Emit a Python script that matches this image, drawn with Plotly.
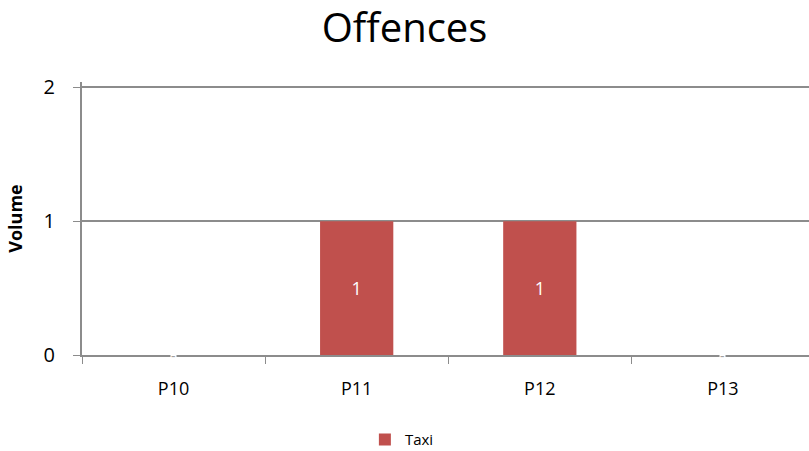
import plotly.graph_objects as go

categories = ["P10", "P11", "P12", "P13"]
taxi = [0, 1, 1, 0]
y_ticks = [0, 1, 2]
y_tick_labels = ["0", "1", "2"]

bar_color = "#C0504D"
axis_color = "#8C8C8C"
font_family = "'Open Sans', Lato, sans-serif"

labels = [str(v) if v != 0 else "" for v in taxi]

W, H = 809, 451

fig = go.Figure()
fig.add_trace(go.Bar(
    x=categories, y=taxi, name="Taxi",
    marker=dict(color=bar_color, line=dict(width=0)),
    width=0.4,
    text=labels, textposition="inside", insidetextanchor="middle",
    textfont=dict(color="white", size=18, family=font_family),
    showlegend=True,
))

# zero-value labels shown as dashes on the axis
for c, v in zip(categories, taxi):
    if v == 0:
        fig.add_annotation(x=c, y=v, text="-", showarrow=False,
                           font=dict(size=14, color="#A0A0A0", family=font_family),
                           bgcolor="white", borderpad=0, xanchor="center", yanchor="middle")

fig.update_layout(
    width=W, height=H,
    margin=dict(l=82, r=0, t=82, b=96, autoexpand=False),
    paper_bgcolor="white", plot_bgcolor="white",
    font=dict(family=font_family, color="black"),
    title=dict(text="Offences", x=0.5, xanchor="center", y=1 - 28 / H, yanchor="middle",
               font=dict(size=40, color="black", family=font_family)),
    legend=dict(orientation="h", x=0.44, xanchor="center", y=-0.25, yanchor="top",
                font=dict(size=15, family=font_family), itemwidth=30),
    bargap=0.6,
)
fig.update_xaxes(
    range=[-0.5, 3.47],
    showline=True, linecolor=axis_color, linewidth=2,
    ticks="outside", tickson="boundaries", ticklen=7, tickcolor=axis_color, tickwidth=1,
    tickfont=dict(size=18, family=font_family), showgrid=False,
    ticklabelstandoff=16,
)
fig.update_yaxes(
    range=[0, 2.04], tickvals=y_ticks, ticktext=y_tick_labels,
    showline=True, linecolor=axis_color, linewidth=2,
    ticks="outside", ticklen=7, tickcolor=axis_color,
    showgrid=True, gridcolor=axis_color, gridwidth=1.5,
    zeroline=False,
    tickfont=dict(size=20, family=font_family),
    ticklabelstandoff=14,
    title=dict(text="<b>Volume</b>", font=dict(size=18, family=font_family), standoff=16),
)

fig.write_html(
    "out.html",
    config={"displayModeBar": False},
    post_script="document.body.style.margin='0';document.body.style.overflow='hidden';",
)
